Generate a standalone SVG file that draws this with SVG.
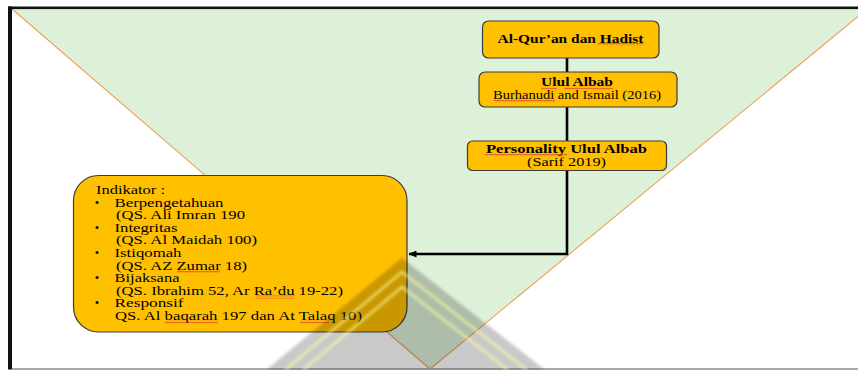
<svg xmlns="http://www.w3.org/2000/svg" width="858" height="370" viewBox="0 0 858 370">
  <style>
    .box { fill: #FFC000; stroke: #3C3C3C; stroke-width: 1.2; }
    .t { font-family: "Liberation Serif", "Times New Roman", serif; fill: #000; }
    .b { font-weight: bold; }
    .wire { fill: none; stroke: #000; stroke-width: 2.6; stroke-linejoin: miter; }
    .edge { stroke: #F0A050; stroke-width: 1.1; fill: none; }
    .squig { fill: url(#squig); }
    .stripe { fill: none; stroke: #FFFF9A; stroke-width: 2.6; stroke-opacity: 0.65; }
  </style>
  <defs>
    <marker id="arrow" markerWidth="8" markerHeight="7" refX="7.5" refY="3.5" orient="auto" markerUnits="userSpaceOnUse">
      <path d="M0 0 L8 3.5 L0 7 Z" fill="#000"/>
    </marker>
    <!-- spell-check style wavy underline -->
    <pattern id="squig" width="3" height="3" patternUnits="userSpaceOnUse">
      <path d="M0 2.4 L0.75 0.9 L1.5 2.4 L2.25 0.9 L3 2.4" fill="none" stroke="#E03A3A" stroke-width="0.6"/>
    </pattern>
    <filter id="soft" x="-10%" y="-10%" width="120%" height="120%">
      <feGaussianBlur stdDeviation="1.6"/>
    </filter>
  </defs>

  <!-- page background -->
  <rect x="0" y="0" width="858" height="370" fill="#FFFFFF"/>

  <!-- inverted green triangle -->
  <polygon points="12,9 867,9 430,369" fill="#DDF0D8"/>
  <line class="edge" x1="12" y1="9" x2="430" y2="369"/>
  <line class="edge" x1="867" y1="9" x2="430" y2="369"/>

  <!-- frame -->
  <rect x="8" y="6.5" width="850" height="2.6" fill="#111"/>
  <rect x="8" y="6.5" width="4" height="363" fill="#111"/>
  <rect x="12" y="368" width="846" height="2" fill="#AAAAAA"/>

  <!-- connectors -->
  <g id="connectors">
    <line class="wire" x1="567" y1="58" x2="567" y2="72"/>
    <line class="wire" x1="567" y1="107" x2="567" y2="141"/>
    <polyline class="wire" points="567,170 567,254 409,254" marker-end="url(#arrow)" stroke-width="2.4"/>
  </g>

  <!-- source node -->
  <g id="node-quran">
    <rect class="box" x="482.5" y="21" width="176.5" height="37" rx="6"/>
    <text class="t b" x="570.5" y="42.5" font-size="13" text-anchor="middle" textLength="146" lengthAdjust="spacingAndGlyphs">Al-Qur’an dan Hadist</text>
    <rect class="squig" x="598" y="43" width="45" height="3"/>
  </g>

  <g id="node-ulul-albab">
    <rect class="box" x="479" y="72" width="198" height="35" rx="6"/>
    <text class="t b" x="577" y="86" font-size="12.5" text-anchor="middle" textLength="72" lengthAdjust="spacingAndGlyphs">Ulul Albab</text>
    <text class="t" x="577" y="98.5" font-size="11.5" text-anchor="middle" textLength="168" lengthAdjust="spacingAndGlyphs">Burhanudi and Ismail (2016)</text>
    <rect class="squig" x="541" y="86.5" width="16" height="3"/>
    <rect class="squig" x="564" y="86.5" width="49" height="3"/>
    <rect class="squig" x="494" y="99" width="61" height="3"/>
  </g>

  <g id="node-personality">
    <rect class="box" x="467.5" y="141" width="199" height="29.5" rx="5"/>
    <text class="t b" x="566.5" y="152.5" font-size="12.5" text-anchor="middle" textLength="161" lengthAdjust="spacingAndGlyphs">Personality Ulul Albab</text>
    <text class="t" x="566.5" y="165.5" font-size="12.5" text-anchor="middle" textLength="79" lengthAdjust="spacingAndGlyphs">(Sarif 2019)</text>
    <rect class="squig" x="485" y="153" width="82" height="3"/>
  </g>

  <g id="node-indikator">
    <rect class="box" x="73.5" y="175.5" width="333.5" height="156.5" rx="25"/>
    <text class="t" x="96" y="194" font-size="12.5" textLength="69" lengthAdjust="spacingAndGlyphs">Indikator :</text>
    <text class="t" x="97" y="206.6" font-size="12.5" text-anchor="middle">•</text>
    <text class="t" x="114.5" y="206.6" font-size="12.5" textLength="109" lengthAdjust="spacingAndGlyphs">Berpengetahuan</text>
    <text class="t" x="116" y="219.2" font-size="12.5" textLength="129" lengthAdjust="spacingAndGlyphs">(QS. Ali Imran 190</text>
    <text class="t" x="97" y="231.8" font-size="12.5" text-anchor="middle">•</text>
    <text class="t" x="114.5" y="231.8" font-size="12.5" textLength="63" lengthAdjust="spacingAndGlyphs">Integritas</text>
    <text class="t" x="116" y="244.4" font-size="12.5" textLength="141" lengthAdjust="spacingAndGlyphs">(QS. Al Maidah 100)</text>
    <text class="t" x="97" y="257" font-size="12.5" text-anchor="middle">•</text>
    <text class="t" x="114.5" y="257" font-size="12.5" textLength="67" lengthAdjust="spacingAndGlyphs">Istiqomah</text>
    <text class="t" x="116" y="269.6" font-size="12.5" textLength="131" lengthAdjust="spacingAndGlyphs">(QS. AZ Zumar 18)</text>
    <text class="t" x="97" y="282.2" font-size="12.5" text-anchor="middle">•</text>
    <text class="t" x="114.5" y="282.2" font-size="12.5" textLength="65" lengthAdjust="spacingAndGlyphs">Bijaksana</text>
    <text class="t" x="116" y="294.8" font-size="12.5" textLength="227" lengthAdjust="spacingAndGlyphs">(QS. Ibrahim 52, Ar Ra’du 19-22)</text>
    <text class="t" x="97" y="307.4" font-size="12.5" text-anchor="middle">•</text>
    <text class="t" x="114.5" y="307.4" font-size="12.5" textLength="69" lengthAdjust="spacingAndGlyphs">Responsif</text>
    <text class="t" x="115" y="320" font-size="12.5" textLength="247" lengthAdjust="spacingAndGlyphs">QS. Al baqarah 197 dan At Talaq 10)</text>
    <rect class="squig" x="177" y="270" width="43" height="3"/>
    <rect class="squig" x="256" y="295.5" width="39" height="3"/>
    <rect class="squig" x="165" y="320.5" width="53" height="3"/>
    <rect class="squig" x="300" y="320.5" width="29" height="3"/>
  </g>

  <!-- faint emblem at the bottom -->
  <g id="emblem">
    <polygon points="402,258 545,370 266,370" fill="#000" fill-opacity="0.21" filter="url(#soft)"/>
    <g filter="url(#soft)">
      <polyline class="stripe" points="285,370 402,272 527,370"/>
      <polyline class="stripe" points="303,370 402,287 508,370"/>
    </g>
  </g>
</svg>
